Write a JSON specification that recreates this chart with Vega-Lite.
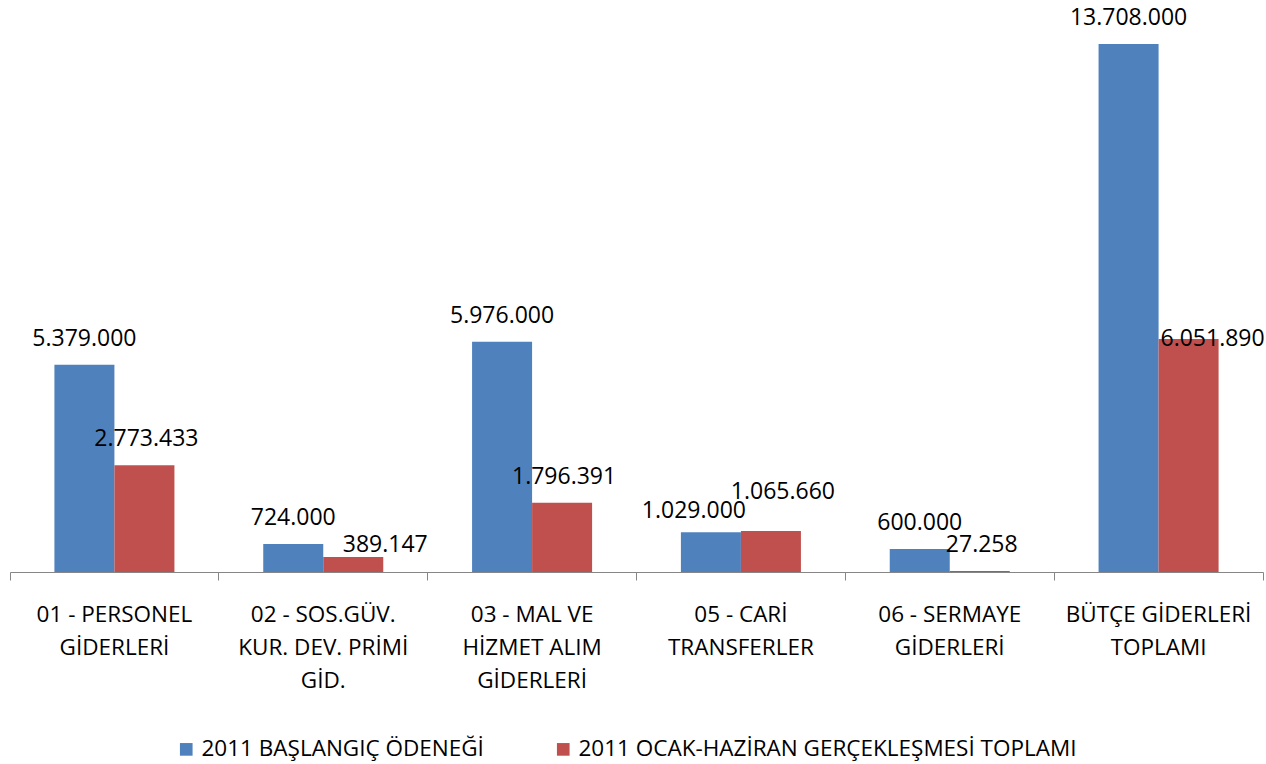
{
  "$schema": "https://vega.github.io/schema/vega-lite/v6.json",
  "width": 1253,
  "height": 572,
  "autosize": {"type": "none"},
  "padding": {"left": 10, "top": 0, "right": 3, "bottom": 192},
  "config": {
    "view": {"stroke": null},
    "font": "Open Sans",
    "locale": {"number": {"decimal": ",", "thousands": ".", "grouping": [3], "currency": ["", " TL"]}}
  },
  "data": {
    "values": [
      {"kalem": "01 - PERSONEL|GİDERLERİ", "seri": "2011 BAŞLANGIÇ ÖDENEĞİ", "deger": 5379000},
      {"kalem": "01 - PERSONEL|GİDERLERİ", "seri": "2011  OCAK-HAZİRAN GERÇEKLEŞMESİ TOPLAMI", "deger": 2773433},
      {"kalem": "02 - SOS.GÜV.|KUR. DEV. PRİMİ|GİD.", "seri": "2011 BAŞLANGIÇ ÖDENEĞİ", "deger": 724000},
      {"kalem": "02 - SOS.GÜV.|KUR. DEV. PRİMİ|GİD.", "seri": "2011  OCAK-HAZİRAN GERÇEKLEŞMESİ TOPLAMI", "deger": 389147},
      {"kalem": "03 - MAL VE|HİZMET ALIM|GİDERLERİ", "seri": "2011 BAŞLANGIÇ ÖDENEĞİ", "deger": 5976000},
      {"kalem": "03 - MAL VE|HİZMET ALIM|GİDERLERİ", "seri": "2011  OCAK-HAZİRAN GERÇEKLEŞMESİ TOPLAMI", "deger": 1796391},
      {"kalem": "05 - CARİ|TRANSFERLER", "seri": "2011 BAŞLANGIÇ ÖDENEĞİ", "deger": 1029000},
      {"kalem": "05 - CARİ|TRANSFERLER", "seri": "2011  OCAK-HAZİRAN GERÇEKLEŞMESİ TOPLAMI", "deger": 1065660},
      {"kalem": "06 - SERMAYE|GİDERLERİ", "seri": "2011 BAŞLANGIÇ ÖDENEĞİ", "deger": 600000},
      {"kalem": "06 - SERMAYE|GİDERLERİ", "seri": "2011  OCAK-HAZİRAN GERÇEKLEŞMESİ TOPLAMI", "deger": 27258},
      {"kalem": "BÜTÇE GİDERLERİ|TOPLAMI", "seri": "2011 BAŞLANGIÇ ÖDENEĞİ", "deger": 13708000},
      {"kalem": "BÜTÇE GİDERLERİ|TOPLAMI", "seri": "2011  OCAK-HAZİRAN GERÇEKLEŞMESİ TOPLAMI", "deger": 6051890}
    ]
  },
  "encoding": {
    "x": {
      "field": "kalem", "type": "nominal", "sort": null,
      "scale": {"paddingInner": 0, "paddingOuter": 0},
      "axis": {
        "title": null, "labelAngle": 0, "bandPosition": 1, "tickExtra": true,
        "labelExpr": "split(datum.label, '|')",
        "labelFontSize": 22.5, "labelColor": "#000000", "labelLineHeight": 33,
        "labelPadding": 23, "labelBaseline": "top", "labelLimit": 300,
        "domainColor": "#868686", "tickColor": "#868686", "tickSize": 8,
        "domainWidth": 1, "tickWidth": 1
      }
    },
    "xOffset": {"field": "seri", "type": "nominal", "sort": null, "scale": {"paddingInner": 0, "paddingOuter": 0.74}},
    "y": {"field": "deger", "type": "quantitative", "scale": {"domain": [0, 14850000], "nice": false, "zero": true}, "axis": null},
    "text": {"field": "deger", "type": "quantitative", "format": ",d"}
  },
  "layer": [
    {
      "mark": {"type": "bar"},
      "encoding": {
        "text": null,
        "color": {
          "field": "seri", "type": "nominal", "sort": null,
          "scale": {"domain": ["2011 BAŞLANGIÇ ÖDENEĞİ", "2011  OCAK-HAZİRAN GERÇEKLEŞMESİ TOPLAMI"], "range": ["#4F81BD", "#C0504D"]},
          "legend": {
            "title": null, "orient": "none", "legendX": 165, "legendY": 738,
            "direction": "horizontal", "symbolType": "square", "symbolSize": 160,
            "symbolStrokeWidth": 0, "labelFontSize": 22.5, "labelColor": "#000000",
            "columnPadding": 68, "labelOffset": 4, "labelLimit": 700, "padding": 0
          }
        }
      }
    },
    {
      "transform": [{"filter": "datum.seri == '2011 BAŞLANGIÇ ÖDENEĞİ' && datum.kalem != '05 - CARİ|TRANSFERLER'"}],
      "mark": {"type": "text", "dy": -26, "fontSize": 23, "baseline": "middle", "color": "#000000"}
    },
    {
      "transform": [{"filter": "datum.seri == '2011 BAŞLANGIÇ ÖDENEĞİ' && datum.kalem == '05 - CARİ|TRANSFERLER'"}],
      "mark": {"type": "text", "dy": -21, "dx": -17, "fontSize": 23, "baseline": "middle", "color": "#000000"}
    },
    {
      "transform": [{"filter": "datum.seri != '2011 BAŞLANGIÇ ÖDENEĞİ' && indexof(['01 - PERSONEL|GİDERLERİ', '03 - MAL VE|HİZMET ALIM|GİDERLERİ', '06 - SERMAYE|GİDERLERİ'], datum.kalem) >= 0"}],
      "mark": {"type": "text", "dy": -26, "dx": 2, "fontSize": 23, "baseline": "middle", "color": "#000000"}
    },
    {
      "transform": [{"filter": "datum.seri != '2011 BAŞLANGIÇ ÖDENEĞİ' && datum.kalem == '02 - SOS.GÜV.|KUR. DEV. PRİMİ|GİD.'"}],
      "mark": {"type": "text", "dy": -12, "dx": 32, "fontSize": 23, "baseline": "middle", "color": "#000000"}
    },
    {
      "transform": [{"filter": "datum.seri != '2011 BAŞLANGIÇ ÖDENEĞİ' && datum.kalem == '05 - CARİ|TRANSFERLER'"}],
      "mark": {"type": "text", "dy": -39, "dx": 12, "fontSize": 23, "baseline": "middle", "color": "#000000"}
    },
    {
      "transform": [{"filter": "datum.seri != '2011 BAŞLANGIÇ ÖDENEĞİ' && datum.kalem == 'BÜTÇE GİDERLERİ|TOPLAMI'"}],
      "mark": {"type": "text", "dy": 0, "dx": 24, "fontSize": 23, "baseline": "middle", "color": "#000000"}
    }
  ]
}
